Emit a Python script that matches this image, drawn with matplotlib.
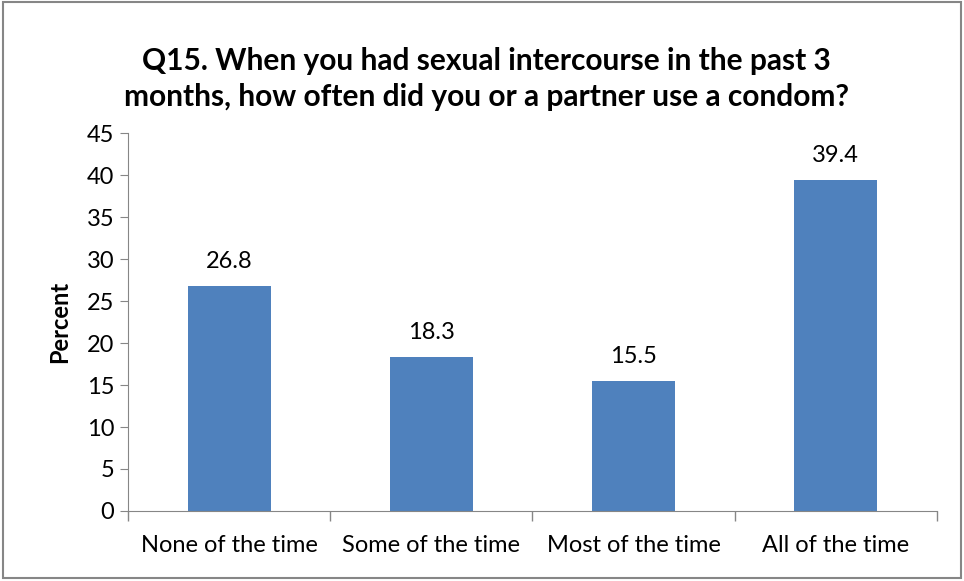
import numpy as np
import matplotlib
matplotlib.use("Agg")
import matplotlib.pyplot as plt
from matplotlib.patches import Rectangle

plt.rcParams['font.family'] = ['Lato', 'DejaVu Sans']

categories = ['None of the time', 'Some of the time', 'Most of the time', 'All of the time']
percent = [26.8, 18.3, 15.5, 39.4]
yticks = np.arange(0, 46, 5)

fig = plt.figure(figsize=(9.64, 5.81), dpi=100)
fig.patches.append(Rectangle((0.003, 0.006), 0.994, 0.99, transform=fig.transFigure,
                             fill=False, edgecolor='#868686', linewidth=1.5))

ax = fig.add_axes([0.1328, 0.1205, 0.839, 0.6505])
x = np.arange(len(categories))
ax.bar(x, percent, width=0.41, color='#4F81BD')

for xi, v in zip(x, percent):
    ax.annotate(f'{v:.1f}', (xi, v), xytext=(0, 10), textcoords='offset points',
                ha='center', va='bottom', fontsize=17)

ax.set_xlim(-0.5, len(categories) - 0.5)
ax.set_ylim(0, 45)
ax.set_yticks(yticks)
ax.set_xticks(x)
ax.set_xticklabels(categories, fontsize=17)
ax.set_xticks(np.arange(-0.5, len(categories), 1), minor=True)
ax.tick_params(axis='x', which='major', length=0, pad=17)
ax.tick_params(axis='x', which='minor', length=7, color='#868686', width=1)
ax.tick_params(axis='y', length=6, color='#868686', labelsize=17, pad=4)
for s in ['top', 'right']:
    ax.spines[s].set_visible(False)
for s in ['left', 'bottom']:
    ax.spines[s].set_color('#868686')

ax.set_ylabel('Percent', fontsize=17, fontweight='bold', labelpad=11)
fig.text(0.505, 0.864, 'Q15. When you had sexual intercourse in the past 3\nmonths, how often did you or a partner use a condom?',
         ha='center', va='center', fontsize=21.5, fontweight='bold', linespacing=1.35)

fig.savefig('out.png', dpi=100)
